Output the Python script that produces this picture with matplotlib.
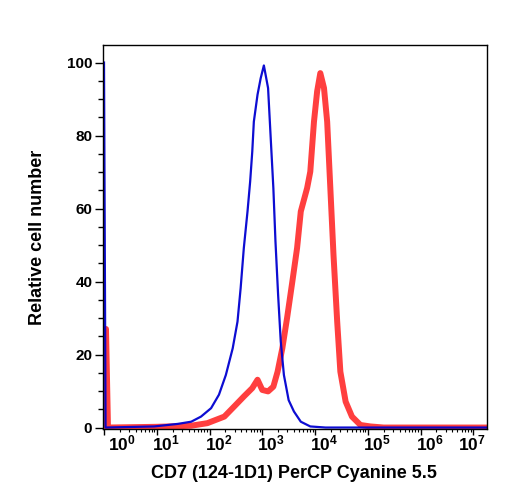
import matplotlib
matplotlib.use("Agg")
import matplotlib.pyplot as plt
import matplotlib.ticker as mticker
from matplotlib.transforms import ScaledTranslation

# Histogram data (fluorescence intensity, relative count)
blue_x = [1.0, 1.07, 8.9, 25, 45, 69, 107, 151, 204, 275, 339, 389, 447, 525,
          589, 646, 692, 813, 933, 1072, 1288, 1445, 1622, 1778, 1995, 2239,
          2570, 3162, 3981, 5370, 8128, 15850, 1.8e7]
blue_y = [100, 0, 0.3, 1.0, 1.6, 3.0, 5.3, 9.0, 14.4, 21.7, 29.0, 38.2, 49.2, 59.2,
          67.4, 75.6, 83.8, 91.2, 95.7, 99.2, 93, 79.3, 65.6, 51, 36.4, 23.6,
          14.4, 7.5, 4.4, 1.6, 0.3, 0, 0]

red_x = [1.02, 1.09, 1.19, 10, 30, 45, 91, 191, 295, 447, 646, 813, 1000, 1288,
         1622, 1950, 2399, 2951, 3715, 4571, 5370, 7079, 8128, 9550, 10965,
         12589, 14791, 16982, 19498, 22387, 26303, 30200, 38019, 50119, 72444,
         112202, 2e5, 1.8e7]
red_y = [0, 27, 0, 0.2, 0.4, 0.5, 1.2, 3.0, 5.8, 8.5, 10.8, 13.1, 10.3, 9.9,
         11.2, 15.3, 21.7, 30, 40, 49.2, 59.2, 65.6, 70.1, 83.8, 92.1,
         97.1, 93, 83.8, 65.6, 47.3, 29, 15.3, 7.1, 3.0, 0.7,
         0.3, 0, 0]

x_major = [1e0, 1e1, 1e2, 1e3, 1e4, 1e5, 1e6, 1e7]
x_exponents = [0, 1, 2, 3, 4, 5, 6, 7]
y_major = [0, 20, 40, 60, 80, 100]

plt.rcParams['font.family'] = ['Liberation Sans', 'DejaVu Sans']
plt.rcParams['font.weight'] = 'bold'
plt.rcParams['mathtext.fontset'] = 'custom'
plt.rcParams['mathtext.rm'] = 'Liberation Sans:bold'
plt.rcParams['mathtext.bf'] = 'Liberation Sans:bold'
plt.rcParams['mathtext.it'] = 'Liberation Sans:bold'

fig = plt.figure(figsize=(5.08, 5.0), dpi=100)
ax = fig.add_axes([0.2037, 0.142, 0.755, 0.768])

ax.plot(red_x, red_y, color='#ff2a2a', linewidth=4.3, alpha=0.9,
        solid_joinstyle='round')
ax.plot(blue_x, blue_y, color='#0000d0', linewidth=1.6, alpha=0.95)

ax.set_xscale('log')
ax.set_xlim(10 ** -0.01, 10 ** 7.26)
ax.set_ylim(-0.4, 104.8)

ax.set_yticks(y_major)
ax.yaxis.set_minor_locator(mticker.MultipleLocator(5))
ax.tick_params(axis='y', which='major', length=6, width=1, labelsize=11, pad=2)
ax.tick_params(axis='y', which='minor', length=3.5, width=1)

ax.set_xticks(x_major)
ax.set_xticklabels([r'$\mathbf{10^{%d}}$' % e for e in x_exponents])
ax.xaxis.set_minor_locator(mticker.LogLocator(base=10, subs=range(2, 10), numticks=20))
ax.xaxis.set_minor_formatter(mticker.NullFormatter())
ax.tick_params(axis='x', which='major', length=4.5, width=1, labelsize=12.5, pad=-1)
ax.tick_params(axis='x', which='minor', length=2.5, width=0.8)

# shift the exponent labels like the reference (pixels)
label_shift = [18, 9, 9, 9, 9, 9, 9, -1.5]
for lab, dx in zip(ax.get_xticklabels(), label_shift):
    lab.set_transform(lab.get_transform() + ScaledTranslation(dx / 100, 0, fig.dpi_scale_trans))

for sp in ax.spines.values():
    sp.set_linewidth(1)
    sp.set_color('black')

ax.set_xlabel('CD7 (124-1D1) PerCP Cyanine 5.5', fontsize=13, fontweight='bold')
ax.set_ylabel('Relative cell number', fontsize=13, fontweight='bold')
ax.xaxis.set_label_coords(0.497, -0.094)
ax.yaxis.set_label_coords(-0.15, 0.5)

fig.savefig('out.png', dpi=100)
